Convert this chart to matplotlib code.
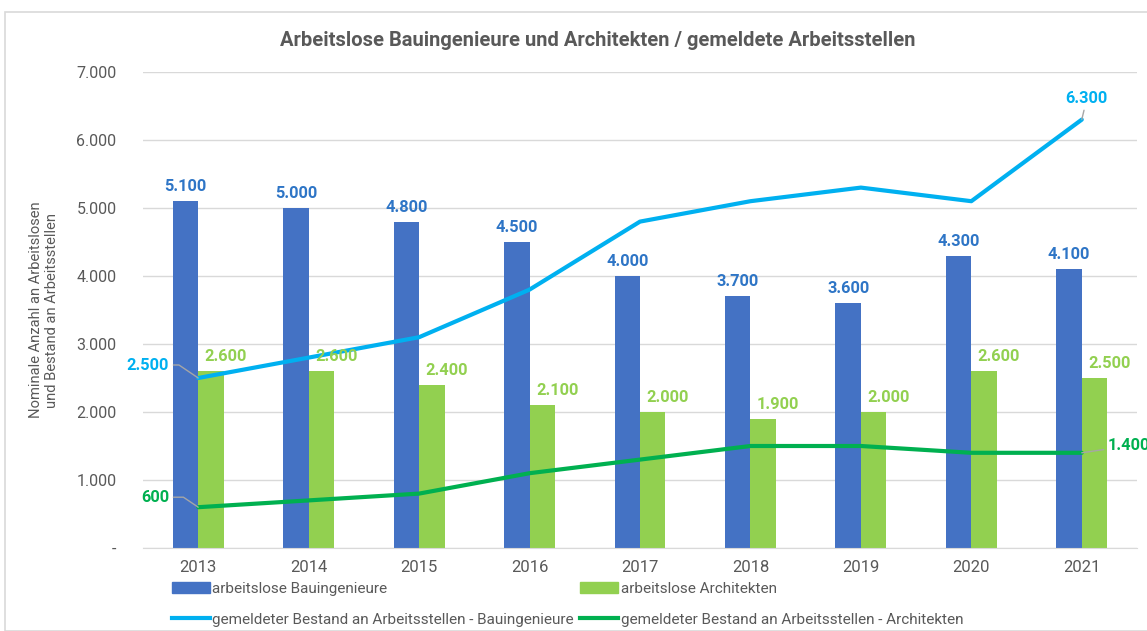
import matplotlib.pyplot as plt
import numpy as np
from matplotlib.patches import Rectangle
from matplotlib.lines import Line2D
from matplotlib.patches import Patch

plt.rcParams["font.family"] = ["Roboto", "DejaVu Sans"]

years = ["2013", "2014", "2015", "2016", "2017", "2018", "2019", "2020", "2021"]
bau_arbeitslos = [5100, 5000, 4800, 4500, 4000, 3700, 3600, 4300, 4100]
arch_arbeitslos = [2600, 2600, 2400, 2100, 2000, 1900, 2000, 2600, 2500]
bau_stellen = [2500, 2800, 3100, 3800, 4800, 5100, 5300, 5100, 6300]
arch_stellen = [600, 700, 800, 1100, 1300, 1500, 1500, 1400, 1400]

c_bau = "#4472C4"
c_arch = "#92D050"
c_bau_line = "#00B0F0"
c_arch_line = "#00B050"
c_bau_lbl = "#2E75C6"
grey = "#595959"

fig = plt.figure(figsize=(11.47, 6.31), dpi=100)
ax = fig.add_axes([143 / 1147, 1 - 548 / 631, (1137 - 143) / 1147, (548 - 72) / 631])

# outer frame
fig.patches.append(Rectangle((5 / 1147, 0), 1.2, 1 - 12 / 631, transform=fig.transFigure,
                             fill=False, edgecolor="#D9D9D9", linewidth=1.2))

x = np.arange(len(years))
w = 0.23
ax.bar(x - w / 2, bau_arbeitslos, w, color=c_bau, zorder=2)
ax.bar(x + w / 2, arch_arbeitslos, w, color=c_arch, zorder=2)
ax.plot(x, bau_stellen, color=c_bau_line, linewidth=3, zorder=3, solid_capstyle="round")
ax.plot(x, arch_stellen, color=c_arch_line, linewidth=3, zorder=3, solid_capstyle="round")

fs_lbl = 11.8
for i in range(len(years)):
    ax.annotate(f"{bau_arbeitslos[i]:,}".replace(",", "."), (x[i] - w / 2, bau_arbeitslos[i]),
                xytext=(0, 7), textcoords="offset pixels", ha="center", va="bottom",
                fontsize=fs_lbl, fontweight="bold", color=c_bau_lbl)
    ax.annotate(f"{arch_arbeitslos[i]:,}".replace(",", "."), (x[i] + w / 2, arch_arbeitslos[i]),
                xytext=(15, 7), textcoords="offset pixels", ha="center", va="bottom",
                fontsize=fs_lbl, fontweight="bold", color=c_arch)

lead = dict(arrowstyle="-", color="#A6A6A6", linewidth=1, shrinkA=1, shrinkB=0)
ax.annotate("2.500", (x[0], bau_stellen[0]), xytext=(-29, 13), textcoords="offset pixels",
            ha="right", va="center", fontsize=fs_lbl, fontweight="bold", color=c_bau_line,
            arrowprops=dict(lead, connectionstyle="angle,angleA=0,angleB=146,rad=0"))
ax.annotate("600", (x[0], arch_stellen[0]), xytext=(-29, 10), textcoords="offset pixels",
            ha="right", va="center", fontsize=fs_lbl, fontweight="bold", color=c_arch_line,
            arrowprops=dict(lead, connectionstyle="angle,angleA=0,angleB=146,rad=0"))
ax.annotate("6.300", (x[-1], bau_stellen[-1]), xytext=(5, 21), textcoords="offset pixels",
            ha="center", va="center", fontsize=fs_lbl, fontweight="bold", color=c_bau_line,
            arrowprops=lead)
ax.annotate("1.400", (x[-1], arch_stellen[-1]), xytext=(26, 7), textcoords="offset pixels",
            ha="left", va="center", fontsize=fs_lbl, fontweight="bold", color=c_arch_line,
            arrowprops=lead)

ax.set_xlim(-0.5, len(years) - 0.5)
ax.set_ylim(0, 7000)
ax.set_yticks(range(0, 7001, 1000))
ax.set_yticklabels(["-"] + [f"{v:,}".replace(",", ".") for v in range(1000, 7001, 1000)])
ax.set_xticks(x)
ax.set_xticklabels(years)
ax.tick_params(axis="y", length=0, pad=19, labelsize=11.5, labelcolor=grey)
ax.tick_params(axis="x", length=0, pad=9, labelsize=12, labelcolor=grey)
ax.grid(axis="y", color="#D9D9D9", linewidth=1, zorder=0)
ax.set_axisbelow(True)
for s in ["top", "right", "left"]:
    ax.spines[s].set_visible(False)
ax.spines["bottom"].set_color("#D9D9D9")

fig.text(44 / 1147, 1 - 310 / 631, "Nominale Anzahl an Arbeitslosen\nund Bestand an Arbeitsstellen",
         rotation=90, ha="center", va="center", fontsize=10.6, color=grey, linespacing=1.1)
fig.text(598 / 1147, 1 - 40 / 631, "Arbeitslose Bauingenieure und Architekten / gemeldete Arbeitsstellen",
         ha="center", va="center", fontsize=14.5, fontweight="bold", color=grey)

handles = [Patch(color=c_bau), Line2D([], [], color=c_bau_line, linewidth=3),
           Patch(color=c_arch), Line2D([], [], color=c_arch_line, linewidth=3)]
labels = ["arbeitslose Bauingenieure", "gemeldeter Bestand an Arbeitsstellen - Bauingenieure",
          "arbeitslose Architekten", "gemeldeter Bestand an Arbeitsstellen - Architekten"]
leg = fig.legend(handles, labels, ncol=2, loc="upper left", bbox_to_anchor=(172 / 1147, 1 - 582 / 631),
                 frameon=False, fontsize=11, handlelength=2.5, handletextpad=0.15,
                 columnspacing=0.4, labelspacing=1.1, borderpad=0, borderaxespad=0)
for t in leg.get_texts():
    t.set_color(grey)

fig.savefig("out.png", dpi=100)
